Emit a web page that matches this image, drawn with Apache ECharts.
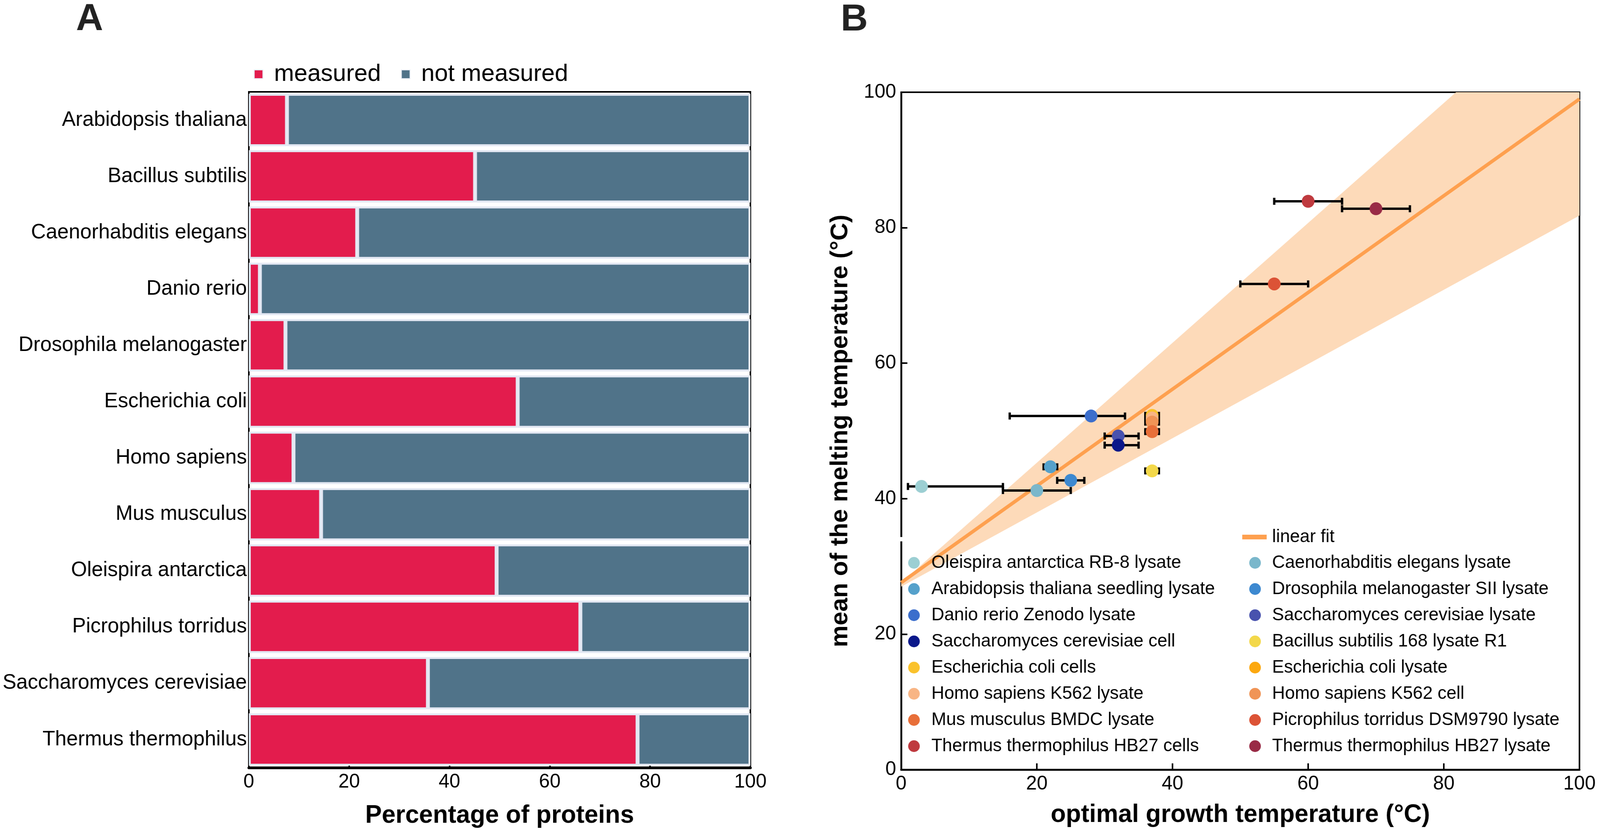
<!DOCTYPE html>
<html>
<head>
<meta charset="utf-8">
<script src="https://cdn.jsdelivr.net/npm/echarts@6/dist/echarts.min.js"></script>
<style>
html,body{margin:0;padding:0;background:#fff;overflow:hidden;}
#chart{position:absolute;left:0;top:0;width:4128px;height:2144px;transform-origin:0 0;}
</style>
</head>
<body>
<div id="chart"></div>
<script>
// ---------- Panel A data ----------
const categories = ['Arabidopsis thaliana','Bacillus subtilis','Caenorhabditis elegans','Danio rerio','Drosophila melanogaster','Escherichia coli','Homo sapiens','Mus musculus','Oleispira antarctica','Picrophilus torridus','Saccharomyces cerevisiae','Thermus thermophilus'];
const measured    = [7.6, 45.1, 21.6, 2.2, 7.3, 53.6, 8.9, 14.4, 49.4, 66.1, 35.7, 77.5];
const notMeasured = [92.4, 54.9, 78.4, 97.8, 92.7, 46.4, 91.1, 85.6, 50.6, 33.9, 64.3, 22.5];
const percentTicks = [0, 20, 40, 60, 80, 100];

// ---------- Panel B data ----------
const sampleNames = [
  'Oleispira antarctica RB-8 lysate','Caenorhabditis elegans lysate',
  'Arabidopsis thaliana seedling lysate','Drosophila melanogaster SII lysate',
  'Danio rerio Zenodo lysate','Saccharomyces cerevisiae lysate',
  'Saccharomyces cerevisiae cell','Bacillus subtilis 168 lysate R1',
  'Escherichia coli cells','Escherichia coli lysate',
  'Homo sapiens K562 lysate','Homo sapiens K562 cell',
  'Mus musculus BMDC lysate','Picrophilus torridus DSM9790 lysate',
  'Thermus thermophilus HB27 cells','Thermus thermophilus HB27 lysate'
];
const sampleColors = ['#9ccfd3','#7ab7cb','#55a1cb','#3d89d0','#3b6ecc','#4852ae','#0b188a','#f3d84a',
                      '#fac22c','#fca80f','#f8b585','#f09456','#e86f39','#dc5336','#bf3a3f','#992b46'];
const growthTemp  = [3, 20, 22, 25, 28, 32, 32, 37, 37, 37, 37, 37, 37, 55, 60, 70];
const growthLow   = [1, 15, 21, 23, 16, 30, 30, 36, 36, 36, 36, 36, 36, 50, 55, 65];
const growthHigh  = [15, 25, 23, 27, 33, 35, 35, 38, 38, 38, 38, 38, 38, 60, 65, 75];
const meltMean    = [41.8, 41.2, 44.7, 42.7, 52.2, 49.25, 47.9, 44.1, 52.3, 51.6, 51.9, 51.3, 49.9, 71.7, 83.9, 82.8];

const fitX = [0, 100];
const fitY = [27.6, 99.0];
const bandUpperX = [0, 81.8, 100];
const bandUpperY = [27.6, 100, 100];
const bandLowerX = [100, 0];
const bandLowerY = [81.8, 27.0];
const tempTicks = [0, 20, 40, 60, 80, 100];

const legendCol1 = [0, 2, 4, 6, 8, 10, 12, 14].map(i => sampleNames[i]);
const legendCol2 = [1, 3, 5, 7, 9, 11, 13, 15].map(i => sampleNames[i]);

const FONT = 'Liberation Sans, Arial, Helvetica, sans-serif';
const el = document.getElementById('chart');
const sx = Math.min(1, window.innerWidth / 4128);
const sy = Math.min(1, window.innerHeight / 2144);
el.style.transform = 'scale(' + sx + ',' + sy + ')';
const chart = echarts.init(el, null, {width: 4128, height: 2144});

const barBorder = {borderColor: '#e3e8f3', borderWidth: 5};

const scatterSeries = sampleNames.map((n, i) => ({
  name: n, type: 'scatter', xAxisIndex: 1, yAxisIndex: 1,
  data: [[growthTemp[i], meltMean[i]]],
  symbol: 'circle', symbolSize: 33, z: 6,
  itemStyle: {color: sampleColors[i], opacity: 1},
  emphasis: {disabled: true}
}));

const errData = sampleNames.map((n, i) => [growthTemp[i], meltMean[i], growthLow[i], growthHigh[i]]);

const option = {
  animation: false,
  backgroundColor: '#fff',
  textStyle: {fontFamily: FONT, color: '#000'},
  graphic: [
    {type: 'text', z: 10, style: {text: 'A', x: 196, y: 50, font: 'bold 97px ' + FONT, fill: '#222', verticalAlign: 'middle'}},
    {type: 'text', z: 10, style: {text: 'B', x: 2169, y: 51, font: 'bold 97px ' + FONT, fill: '#222', verticalAlign: 'middle'}},
    {type: 'rect', z: 100, shape: {x: 2320, y: 1374, width: 10, height: 11}, style: {fill: '#fff'}}
  ],
  legend: [
    {left: 655, top: 159, padding: 0, itemWidth: 22, itemHeight: 22, itemGap: 52, icon: 'rect',
     data: ['measured', 'not measured'], selectedMode: false,
     textStyle: {fontSize: 62, lineHeight: 62, color: '#000', fontFamily: FONT, padding: [0, 0, 0, 24]}},
    {left: 2343, top: 1417, orient: 'vertical', padding: 0, itemWidth: 30, itemHeight: 30, itemGap: 21, icon: 'circle',
     data: legendCol1, selectedMode: false,
     textStyle: {fontSize: 46, lineHeight: 46, color: '#000', fontFamily: FONT, padding: [0, 0, 0, 25]}},
    {left: 3223, top: 1417, orient: 'vertical', padding: 0, itemWidth: 30, itemHeight: 30, itemGap: 21, icon: 'circle',
     data: legendCol2, selectedMode: false,
     textStyle: {fontSize: 46, lineHeight: 46, color: '#000', fontFamily: FONT, padding: [0, 0, 0, 24]}},
    {left: 3205, top: 1351, padding: 0, itemWidth: 63, itemHeight: 12, icon: 'rect',
     data: ['linear fit'], selectedMode: false,
     textStyle: {fontSize: 46, lineHeight: 46, color: '#000', fontFamily: FONT, padding: [0, 0, 0, 9]}}
  ],
  grid: [
    {left: 642, top: 235, width: 1294, height: 1729, show: true, borderColor: '#000', borderWidth: 4, backgroundColor: 'transparent'},
    {left: 2325, top: 236, width: 1750, height: 1733, show: true, borderColor: '#000', borderWidth: 4, backgroundColor: 'transparent'}
  ],
  xAxis: [
    {gridIndex: 0, type: 'value', min: percentTicks[0], max: percentTicks[percentTicks.length - 1], interval: 20,
     axisLine: {show: true, onZero: false, lineStyle: {color: '#000', width: 7}},
     axisTick: {show: true, inside: true, length: 20, lineStyle: {color: '#000', width: 4}},
     axisLabel: {fontSize: 50, color: '#000', margin: 12, fontFamily: FONT},
     splitLine: {show: false},
     name: 'Percentage of proteins', nameLocation: 'middle', nameGap: 91,
     nameTextStyle: {fontSize: 64, fontWeight: 'bold', color: '#000', fontFamily: FONT}},
    {gridIndex: 1, type: 'value', min: tempTicks[0], max: tempTicks[tempTicks.length - 1], interval: 20,
     axisLine: {show: true, onZero: false, lineStyle: {color: '#000', width: 5}},
     axisTick: {show: true, inside: true, length: 16, lineStyle: {color: '#000', width: 4}},
     axisLabel: {fontSize: 50, color: '#000', margin: 12, fontFamily: FONT},
     splitLine: {show: false},
     name: 'optimal growth temperature (°C)', nameLocation: 'middle', nameGap: 84,
     nameTextStyle: {fontSize: 64, fontWeight: 'bold', color: '#000', fontFamily: FONT}}
  ],
  yAxis: [
    {gridIndex: 0, type: 'category', data: categories, inverse: true,
     axisLine: {show: true, lineStyle: {color: '#000', width: 4}},
     axisTick: {show: false},
     axisLabel: {fontSize: 53, color: '#000', margin: 5, fontFamily: FONT},
     splitLine: {show: false}},
    {gridIndex: 1, type: 'value', min: tempTicks[0], max: tempTicks[tempTicks.length - 1], interval: 20,
     axisLine: {show: true, onZero: false, lineStyle: {color: '#000', width: 4.5}},
     axisTick: {show: true, inside: true, length: 16, lineStyle: {color: '#000', width: 4}},
     axisLabel: {fontSize: 50, color: '#000', margin: 13, fontFamily: FONT},
     splitLine: {show: false},
     name: 'mean of the melting temperature (°C)', nameLocation: 'middle', nameGap: 125,
     nameTextStyle: {fontSize: 63, fontWeight: 'bold', color: '#000', fontFamily: FONT}}
  ],
  series: [
    {name: 'measured', type: 'bar', stack: 'p', xAxisIndex: 0, yAxisIndex: 0, data: measured,
     barCategoryGap: '7%', itemStyle: Object.assign({color: '#e31c4d'}, barBorder), emphasis: {disabled: true}},
    {name: 'not measured', type: 'bar', stack: 'p', xAxisIndex: 0, yAxisIndex: 0, data: notMeasured,
     barCategoryGap: '7%', itemStyle: Object.assign({color: '#507389'}, barBorder), emphasis: {disabled: true}},
    {name: 'band', type: 'custom', xAxisIndex: 1, yAxisIndex: 1, z: 2, silent: true,
     data: [[0, 0]],
     renderItem: function (params, api) {
       const pts = [];
       for (let i = 0; i < bandUpperX.length; i++) pts.push(api.coord([bandUpperX[i], bandUpperY[i]]));
       for (let i = 0; i < bandLowerX.length; i++) pts.push(api.coord([bandLowerX[i], bandLowerY[i]]));
       return {type: 'polygon', shape: {points: pts}, style: {fill: '#fddab9'}};
     }},
    {name: 'linear fit', type: 'line', xAxisIndex: 1, yAxisIndex: 1, z: 3, silent: true,
     data: fitX.map((x, i) => [x, fitY[i]]), symbol: 'none', color: '#fea04f',
     lineStyle: {color: '#fea04f', width: 9}, itemStyle: {color: '#fea04f'}},
    {name: 'errors', type: 'custom', xAxisIndex: 1, yAxisIndex: 1, z: 4, silent: true,
     data: errData, encode: {x: [0, 2, 3], y: 1},
     renderItem: function (params, api) {
       const y = api.value(1);
       const p1 = api.coord([api.value(2), y]);
       const p2 = api.coord([api.value(3), y]);
       const h = 9;
       const st = {stroke: '#000', lineWidth: 6};
       return {type: 'group', children: [
         {type: 'line', shape: {x1: p1[0], y1: p1[1], x2: p2[0], y2: p2[1]}, style: st},
         {type: 'line', shape: {x1: p1[0], y1: p1[1] - h, x2: p1[0], y2: p1[1] + h}, style: st},
         {type: 'line', shape: {x1: p2[0], y1: p2[1] - h, x2: p2[0], y2: p2[1] + h}, style: st}
       ]};
     }}
  ].concat(scatterSeries)
};
chart.setOption(option);
</script>
</body>
</html>
